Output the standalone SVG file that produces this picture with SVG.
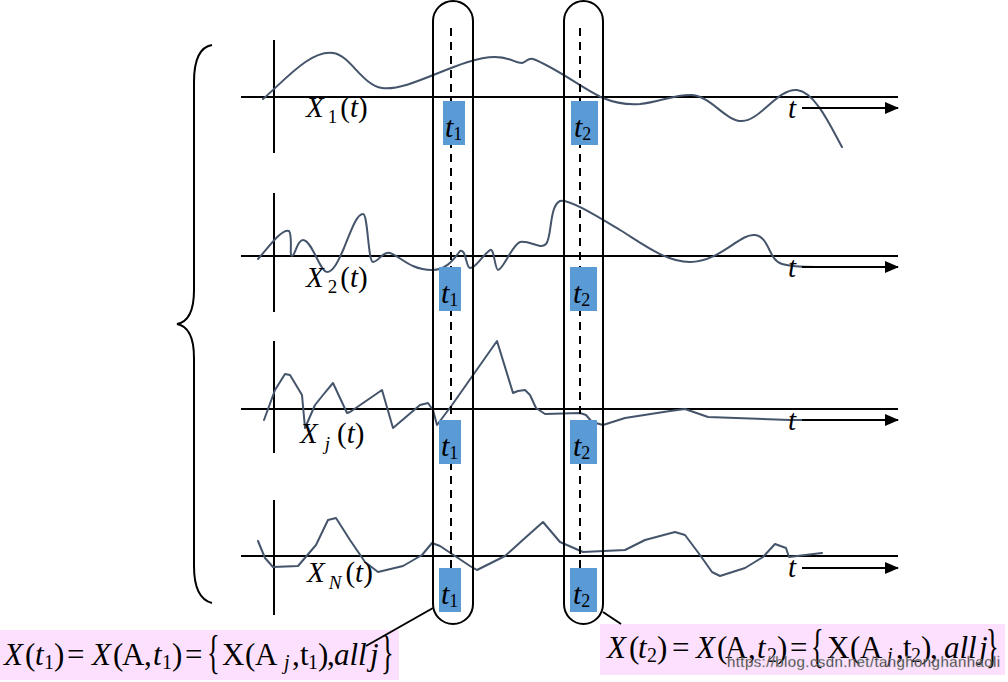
<svg xmlns="http://www.w3.org/2000/svg" width="1008" height="682" viewBox="0 0 1008 682">
<style>
.ax{stroke:#000;stroke-width:2;fill:none}
.cap{stroke:#000;stroke-width:2;fill:none}
.dash{stroke:#000;stroke-width:2;stroke-dasharray:8 6;fill:none}
.wave{stroke:#44546a;stroke-width:2;fill:none;stroke-linejoin:round;stroke-linecap:round}
.box{fill:#5b9bd5}
.pink{fill:#fde0fd}
text{font-family:"Liberation Serif","Times New Roman",serif;fill:#000}
.lbl{font-size:29px}
.tb{font-size:30px}
.f{font-size:31px}
.br{font-size:34px}
.i{font-style:italic}
</style>
<defs>
<marker id="arr" markerWidth="14" markerHeight="12" refX="13" refY="6" orient="auto" markerUnits="userSpaceOnUse">
<path d="M0,0 L14,6 L0,12 Z" fill="#000"/>
</marker>
</defs>
<rect x="0" y="630" width="399" height="50" class="pink"/>
<rect x="600" y="624" width="405" height="51" class="pink"/>
<g id="brace">
<path class="ax" d="M212,45 C200,47 194,60 194,82 L194,290 C194,310 188,322 177,324 C188,326 194,338 194,358 L194,566 C194,588 200,600 212,603"/>
</g>
<g id="axes">
<line class="ax" x1="274" y1="40" x2="274" y2="153"/>
<line class="ax" x1="274" y1="193" x2="274" y2="312"/>
<line class="ax" x1="274" y1="341" x2="274" y2="453"/>
<line class="ax" x1="274" y1="500" x2="274" y2="615"/>
<line class="ax" x1="241" y1="97" x2="898" y2="97"/>
<line class="ax" x1="241" y1="256" x2="898" y2="256"/>
<line class="ax" x1="241" y1="409" x2="898" y2="409"/>
<line class="ax" x1="241" y1="556" x2="898" y2="556"/>
</g>
<g id="waves">
<path class="wave" d="M263,99 C285,80 310,50 333,53 C350,55 362,85 382,88 C410,92 460,57 495,57 C510,57 515,63 522,63 C527,62 528,57 533,59 C555,67 585,90 603,98 C615,103 625,105 640,104 C660,102 675,94 692,95 C712,97 725,121 742,121 C760,121 778,88 797,90 C815,92 830,125 842,147"/>
<path class="wave" d="M258,259 C268,248 282,228 289,231 C293,236 289,256 292,256 C295,256 297,240 303,240 C312,240 320,272 327,272 C333,272 338,262 344,248 C352,228 357,214 363,214 C368,214 368,262 373,262 C378,262 383,251 390,253 C400,256 410,270 432,270 C445,270 452,262 460,251 C466,248 466,268 470,268 C476,268 480,258 490,250 C494,247 495,270 498,270 C503,270 512,245 520,242 C530,240 540,250 546,244 C552,238 549,206 560,201 C568,198 600,218 620,230 C640,242 665,262 690,262 C720,262 740,233 755,235 C770,237 768,260 782,264 C795,268 815,267 827,267"/>
<polyline class="wave" points="264,420 275,390 285,374 290,375 293,380 302,395 305,428 315,405 323,395 333,383 347,413 350,412 382,390 393,428 420,405 428,403 433,410 437,425 452,405 497,341 513,393 518,391 525,390 530,395 536,408 545,414 580,413 586,415 592,422 603,425 625,418 670,411 685,409 708,417 790,420 808,420"/>
<polyline class="wave" points="258,541 265,558 273,567 298,566 316,545 328,520 336,518 350,540 365,562 378,572 403,566 422,555 432,543 440,546 470,566 477,570 505,556 525,538 543,522 560,542 583,552 625,550 645,540 675,532 685,535 700,555 712,572 720,576 745,568 763,557 775,544 786,548 789,557 822,553"/>
</g>
<g id="time-arrows">
<line class="ax" x1="802" y1="108" x2="898" y2="108" marker-end="url(#arr)"/>
<line class="ax" x1="802" y1="267" x2="898" y2="267" marker-end="url(#arr)"/>
<line class="ax" x1="802" y1="420" x2="898" y2="420" marker-end="url(#arr)"/>
<line class="ax" x1="802" y1="568" x2="898" y2="568" marker-end="url(#arr)"/>
<text class="lbl i" x="788" y="118">t</text>
<text class="lbl i" x="788" y="277">t</text>
<text class="lbl i" x="788" y="430">t</text>
<text class="lbl i" x="788" y="577">t</text>
</g>
<g id="labels">
<text class="lbl" x="306" y="117"><tspan class="i">X</tspan><tspan font-size="19" dx="4" dy="6">1</tspan><tspan dx="3" dy="-6">(</tspan><tspan class="i">t</tspan>)</text>
<text class="lbl" x="306" y="287"><tspan class="i">X</tspan><tspan font-size="19" dx="4" dy="6">2</tspan><tspan dx="3" dy="-6">(</tspan><tspan class="i">t</tspan>)</text>
<text class="lbl" x="300" y="443"><tspan class="i">X</tspan><tspan class="i" font-size="19" dx="7" dy="7">j</tspan><tspan dx="7" dy="-7">(</tspan><tspan class="i">t</tspan>)</text>
<text class="lbl" x="307" y="582"><tspan class="i">X</tspan><tspan class="i" font-size="19" dx="4" dy="7">N</tspan><tspan dx="4" dy="-7">(</tspan><tspan class="i">t</tspan>)</text>
</g>
<g id="dashes">
<line class="dash" x1="451" y1="28" x2="451" y2="612"/>
<line class="dash" x1="580" y1="28" x2="580" y2="612"/>
</g>
<g id="t1-boxes">
<rect class="box" x="443" y="101" width="22" height="44"/>
<rect class="box" x="439" y="267" width="22" height="44"/>
<rect class="box" x="439" y="420" width="22" height="44"/>
<rect class="box" x="439" y="568" width="22" height="44"/>
<text class="tb" x="445" y="137"><tspan class="i">t</tspan><tspan font-size="18" dy="3">1</tspan></text>
<text class="tb" x="441" y="303"><tspan class="i">t</tspan><tspan font-size="18" dy="3">1</tspan></text>
<text class="tb" x="441" y="456"><tspan class="i">t</tspan><tspan font-size="18" dy="3">1</tspan></text>
<text class="tb" x="441" y="604"><tspan class="i">t</tspan><tspan font-size="18" dy="3">1</tspan></text>
</g>
<g id="t2-boxes">
<rect class="box" x="571" y="101" width="27" height="44"/>
<rect class="box" x="570" y="267" width="27" height="44"/>
<rect class="box" x="570" y="420" width="27" height="44"/>
<rect class="box" x="570" y="568" width="27" height="44"/>
<text class="tb" x="574" y="137"><tspan class="i">t</tspan><tspan font-size="18" dy="3">2</tspan></text>
<text class="tb" x="573" y="303"><tspan class="i">t</tspan><tspan font-size="18" dy="3">2</tspan></text>
<text class="tb" x="573" y="456"><tspan class="i">t</tspan><tspan font-size="18" dy="3">2</tspan></text>
<text class="tb" x="573" y="604"><tspan class="i">t</tspan><tspan font-size="18" dy="3">2</tspan></text>
</g>
<g id="capsule-t1">
<rect class="cap" x="433" y="1" width="40" height="623" rx="20" ry="20"/>
</g>
<g id="capsule-t2">
<rect class="cap" x="564" y="1" width="39" height="623" rx="19.5" ry="20"/>
</g>
<g id="connectors">
<line class="ax" x1="433" y1="608" x2="366" y2="646"/>
<line class="ax" x1="603" y1="612" x2="621" y2="624"/>
</g>
<g id="formula-t1">
<text class="f" y="665"><tspan class="i" x="4">X</tspan><tspan x="25">(</tspan><tspan class="i" x="35">t</tspan><tspan font-size="20" x="44" dy="4">1</tspan><tspan x="54" dy="-4">)</tspan><tspan x="67">=</tspan><tspan class="i" x="92">X</tspan><tspan x="113">(</tspan><tspan x="122">A</tspan><tspan x="144">,</tspan><tspan class="i" x="153">t</tspan><tspan font-size="20" x="162" dy="4">1</tspan><tspan x="172" dy="-4">)</tspan><tspan x="185">=</tspan><tspan x="222">X</tspan><tspan x="245">(</tspan><tspan x="255">A</tspan><tspan class="i" font-size="20" x="284" dy="4">j</tspan><tspan x="292" dy="-4">,</tspan><tspan x="300">t</tspan><tspan font-size="20" x="308" dy="4">1</tspan><tspan x="318" dy="-4">)</tspan><tspan x="327">,</tspan><tspan class="i" x="334">all</tspan><tspan class="i" x="370">j</tspan></text>
<text class="br" transform="translate(207,668) scale(0.78,1.35)">{</text>
<text class="br" transform="translate(381,668) scale(0.78,1.35)">}</text>
</g>
<g id="formula-t2">
<text class="f" y="658"><tspan class="i" x="607">X</tspan><tspan x="629">(</tspan><tspan class="i" x="638">t</tspan><tspan font-size="20" x="647" dy="4">2</tspan><tspan x="657" dy="-4">)</tspan><tspan x="672">=</tspan><tspan class="i" x="696">X</tspan><tspan x="717">(</tspan><tspan x="725">A</tspan><tspan x="748">,</tspan><tspan class="i" x="757">t</tspan><tspan font-size="20" x="767" dy="4">2</tspan><tspan x="777" dy="-4">)</tspan><tspan x="790">=</tspan><tspan x="827">X</tspan><tspan x="850">(</tspan><tspan x="860">A</tspan><tspan class="i" font-size="20" x="887" dy="4">j</tspan><tspan x="896" dy="-4">,</tspan><tspan x="903">t</tspan><tspan font-size="20" x="911" dy="4">2</tspan><tspan x="921" dy="-4">)</tspan><tspan x="930">,</tspan><tspan class="i" x="944">all</tspan><tspan class="i" x="979">j</tspan></text>
<text class="br" transform="translate(811,662) scale(0.78,1.35)">{</text>
<text class="br" transform="translate(986,662) scale(0.78,1.35)">}</text>
<text x="727" y="667" font-size="15" style="font-family:'Liberation Sans',Arial,sans-serif" fill="#ffffff" fill-opacity="0.85" stroke="#bbbbbb" stroke-width="0.4" textLength="273">https://blog.csdn.net/tanghonghanhaoli</text>
</g>
</svg>
